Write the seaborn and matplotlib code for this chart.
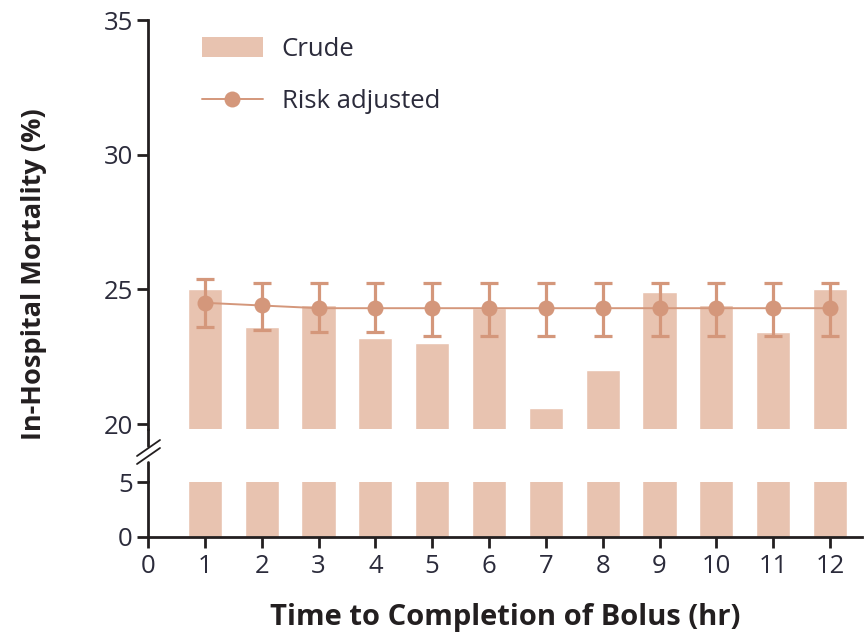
import matplotlib
matplotlib.use("Agg")
import matplotlib.pyplot as plt
from matplotlib.lines import Line2D
from matplotlib.patches import Patch
import seaborn as sns
import numpy as np
import pandas as pd

hours = [1, 2, 3, 4, 5, 6, 7, 8, 9, 10, 11, 12]
crude = [25.0, 23.6, 24.4, 23.2, 23.0, 24.3, 20.6, 22.0, 24.9, 24.4, 23.4, 25.0]
risk_adjusted = [24.5, 24.4, 24.3, 24.3, 24.3, 24.3, 24.3, 24.3, 24.3, 24.3, 24.3, 24.3]
risk_lower = [23.6, 23.5, 23.4, 23.4, 23.25, 23.25, 23.25, 23.25, 23.25, 23.25, 23.25, 23.25]
risk_upper = [25.4, 25.25, 25.25, 25.25, 25.25, 25.25, 25.25, 25.25, 25.25, 25.25, 25.25, 25.25]
upper_yticks = [20, 25, 30, 35]
lower_yticks = [0, 5]
xticks = list(range(0, 13))

df = pd.DataFrame({"hour": hours, "crude": crude, "risk": risk_adjusted,
                   "lo": risk_lower, "hi": risk_upper})

BAR = "#e8c3b0"
LINE = "#d4977b"
DARK = "#231f20"
TXT = "#2b2b3b"

sns.set_style("white")
plt.rcParams["font.family"] = ["Open Sans", "DejaVu Sans"]

W, H = 864, 637
fig = plt.figure(figsize=(W / 100, H / 100), dpi=100)

def fx(px):
    return px / W

def fy(py):
    return 1 - py / H

left_px, right_px = 148, 862
ppu = (424 - 20) / 15.0
up_bottom_val = 19.8
up_bottom_px = 424 + (20 - up_bottom_val) * ppu
ax_up = fig.add_axes([fx(left_px), fy(up_bottom_px), fx(right_px - left_px),
                      (up_bottom_px - 20) / H])
ax_lo = fig.add_axes([fx(left_px), fy(537), fx(right_px - left_px), (537 - 482) / H])

for ax in (ax_up, ax_lo):
    sns.barplot(data=df, x="hour", y="crude", native_scale=True, width=0.6,
                color=BAR, saturation=1, ax=ax, zorder=1)
    ax.set_xlim(0, (right_px - left_px) / ((830 - 148) / 12.0))
    for s in ("top", "right"):
        ax.spines[s].set_visible(False)
    ax.spines["left"].set_color(DARK)
    ax.spines["left"].set_linewidth(2)
    ax.set_xlabel("")
    ax.set_ylabel("")
    ax.tick_params(axis="y", direction="out", length=8, width=2, color=DARK,
                   labelsize=18.5, labelcolor=TXT, pad=3, left=True)

# upper
ax_up.set_ylim(up_bottom_val, 35)
ax_up.set_yticks(upper_yticks)
ax_up.spines["bottom"].set_visible(False)
ax_up.tick_params(axis="x", bottom=False, labelbottom=False)

ax_up.errorbar(df["hour"], df["risk"],
               yerr=[np.array(risk_adjusted) - np.array(risk_lower),
                     np.array(risk_upper) - np.array(risk_adjusted)],
               fmt="none", ecolor=LINE, elinewidth=2.3, capsize=6.5, capthick=2.3, zorder=3)
sns.lineplot(data=df, x="hour", y="risk", color=LINE, lw=1.4, marker="o",
             markersize=11.5, markeredgewidth=0, ax=ax_up, zorder=4)
ax_up.set_xlabel("")
ax_up.set_ylabel("")

# lower
ax_lo.set_ylim(0, 5)
ax_lo.set_yticks(lower_yticks)
ax_lo.set_xticks(xticks)
ax_lo.spines["bottom"].set_color(DARK)
ax_lo.spines["bottom"].set_linewidth(2)
ax_lo.tick_params(axis="x", direction="out", length=8, width=2, color=DARK,
                  labelsize=18.5, labelcolor=TXT, pad=4, bottom=True)

# spine continuations and break marks
fig.add_artist(Line2D([fx(left_px), fx(left_px)], [fy(up_bottom_px), fy(446)],
                      color=DARK, lw=2, transform=fig.transFigure))
fig.add_artist(Line2D([fx(left_px), fx(left_px)], [fy(482), fy(462)],
                      color=DARK, lw=2, transform=fig.transFigure))
for dy in (0, 8):
    fig.add_artist(Line2D([fx(137), fx(160)], [fy(456 + dy), fy(440 + dy)],
                          color=DARK, lw=1.3, transform=fig.transFigure))

# legend
handles = [Patch(facecolor=BAR, edgecolor="none"),
           Line2D([], [], color=LINE, lw=1.4, marker="o", markersize=11.5, markeredgewidth=0)]
ax_up.legend(handles, ["Crude", "Risk adjusted"], loc="upper left",
             bbox_to_anchor=((179 - left_px) / (right_px - left_px), 1.015),
             frameon=False, fontsize=18.5, labelcolor=TXT, handlelength=2.35,
             handleheight=0.8, handletextpad=0.75, labelspacing=1.05)

fig.text(fx(34), fy(274), "In-Hospital Mortality (%)", rotation=90, ha="center",
         va="center", fontsize=19.5, fontweight="bold", color=DARK)
fig.text(fx(505), fy(618), "Time to Completion of Bolus (hr)", ha="center",
         va="center", fontsize=21, fontweight="bold", color=DARK)

fig.savefig("out.png", dpi=100)
